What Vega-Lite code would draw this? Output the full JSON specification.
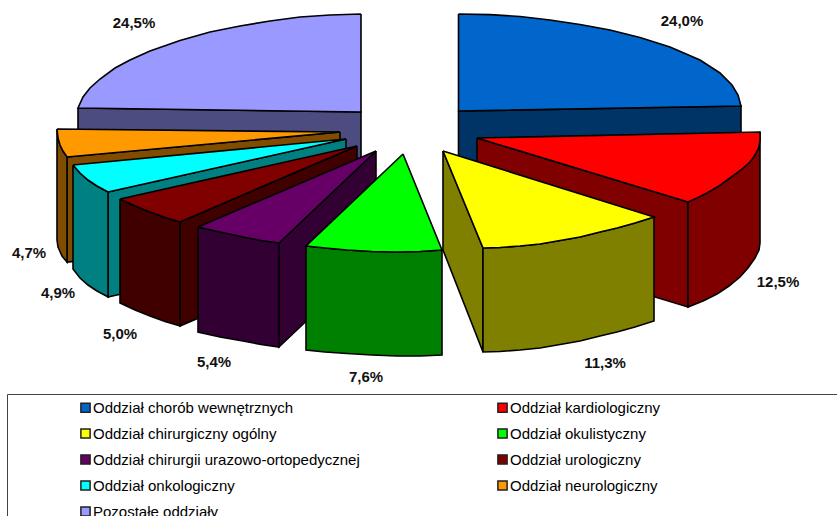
{
  "$schema": "https://vega.github.io/schema/vega-lite/v6.json",
  "width": 837,
  "height": 516,
  "padding": 0,
  "autosize": "none",
  "background": "white",
  "view": {"stroke": null},
  "datasets": {
    "frame": [{"left": 7.5, "right": 845, "top": 394.5, "bottom": 530}],
    "shares": [
      {"share": 24.0, "label": "24,0%", "x": 682, "y": 21},
      {"share": 12.5, "label": "12,5%", "x": 778, "y": 282},
      {"share": 11.3, "label": "11,3%", "x": 605, "y": 363},
      {"share": 7.6, "label": "7,6%", "x": 366, "y": 377},
      {"share": 5.4, "label": "5,4%", "x": 214, "y": 362},
      {"share": 5.0, "label": "5,0%", "x": 120, "y": 334},
      {"share": 4.9, "label": "4,9%", "x": 58, "y": 293},
      {"share": 4.7, "label": "4,7%", "x": 29, "y": 253},
      {"share": 24.5, "label": "24,5%", "x": 134, "y": 23}
    ],
    "faces": [
      {"face": "Pozostałe oddziały, bok", "piece": 1, "i": 0, "x": 78, "y": 108},
      {"face": "Pozostałe oddziały, bok", "piece": 1, "i": 1, "x": 361, "y": 112},
      {"face": "Pozostałe oddziały, bok", "piece": 1, "i": 2, "x": 361, "y": 165},
      {"face": "Pozostałe oddziały, bok", "piece": 1, "i": 3, "x": 78, "y": 145},
      {"face": "Pozostałe oddziały, bok", "piece": 1, "i": 4, "x": 78, "y": 108},

      {"face": "Pozostałe oddziały", "piece": 2, "i": 0, "x": 361, "y": 14},
      {"face": "Pozostałe oddziały", "piece": 2, "i": 1, "x": 330, "y": 15},
      {"face": "Pozostałe oddziały", "piece": 2, "i": 2, "x": 300, "y": 17},
      {"face": "Pozostałe oddziały", "piece": 2, "i": 3, "x": 270, "y": 21},
      {"face": "Pozostałe oddziały", "piece": 2, "i": 4, "x": 240, "y": 26},
      {"face": "Pozostałe oddziały", "piece": 2, "i": 5, "x": 210, "y": 32},
      {"face": "Pozostałe oddziały", "piece": 2, "i": 6, "x": 180, "y": 40.5},
      {"face": "Pozostałe oddziały", "piece": 2, "i": 7, "x": 150, "y": 51},
      {"face": "Pozostałe oddziały", "piece": 2, "i": 8, "x": 130, "y": 60},
      {"face": "Pozostałe oddziały", "piece": 2, "i": 9, "x": 115, "y": 68},
      {"face": "Pozostałe oddziały", "piece": 2, "i": 10, "x": 100, "y": 79},
      {"face": "Pozostałe oddziały", "piece": 2, "i": 11, "x": 90, "y": 88},
      {"face": "Pozostałe oddziały", "piece": 2, "i": 12, "x": 83, "y": 97},
      {"face": "Pozostałe oddziały", "piece": 2, "i": 13, "x": 78, "y": 108},
      {"face": "Pozostałe oddziały", "piece": 2, "i": 14, "x": 361, "y": 112},
      {"face": "Pozostałe oddziały", "piece": 2, "i": 15, "x": 361, "y": 14},

      {"face": "Oddział chorób wewnętrznych, bok", "piece": 3, "i": 0, "x": 458.5, "y": 111},
      {"face": "Oddział chorób wewnętrznych, bok", "piece": 3, "i": 1, "x": 741, "y": 106},
      {"face": "Oddział chorób wewnętrznych, bok", "piece": 3, "i": 2, "x": 741, "y": 145},
      {"face": "Oddział chorób wewnętrznych, bok", "piece": 3, "i": 3, "x": 458.5, "y": 170},
      {"face": "Oddział chorób wewnętrznych, bok", "piece": 3, "i": 4, "x": 458.5, "y": 111},

      {"face": "Oddział chorób wewnętrznych", "piece": 4, "i": 0, "x": 458.5, "y": 14},
      {"face": "Oddział chorób wewnętrznych", "piece": 4, "i": 1, "x": 490, "y": 14.6},
      {"face": "Oddział chorób wewnętrznych", "piece": 4, "i": 2, "x": 520, "y": 16.5},
      {"face": "Oddział chorób wewnętrznych", "piece": 4, "i": 3, "x": 550, "y": 20},
      {"face": "Oddział chorób wewnętrznych", "piece": 4, "i": 4, "x": 580, "y": 24.5},
      {"face": "Oddział chorób wewnętrznych", "piece": 4, "i": 5, "x": 610, "y": 30},
      {"face": "Oddział chorób wewnętrznych", "piece": 4, "i": 6, "x": 640, "y": 37.5},
      {"face": "Oddział chorób wewnętrznych", "piece": 4, "i": 7, "x": 670, "y": 47},
      {"face": "Oddział chorób wewnętrznych", "piece": 4, "i": 8, "x": 700, "y": 60},
      {"face": "Oddział chorób wewnętrznych", "piece": 4, "i": 9, "x": 720, "y": 73},
      {"face": "Oddział chorób wewnętrznych", "piece": 4, "i": 10, "x": 732, "y": 85},
      {"face": "Oddział chorób wewnętrznych", "piece": 4, "i": 11, "x": 738, "y": 95},
      {"face": "Oddział chorób wewnętrznych", "piece": 4, "i": 12, "x": 741, "y": 106},
      {"face": "Oddział chorób wewnętrznych", "piece": 4, "i": 13, "x": 458.5, "y": 111},
      {"face": "Oddział chorób wewnętrznych", "piece": 4, "i": 14, "x": 458.5, "y": 14},

      {"face": "Oddział neurologiczny, bok", "piece": 5, "i": 0, "x": 340, "y": 132},
      {"face": "Oddział neurologiczny, bok", "piece": 5, "i": 1, "x": 67, "y": 157},
      {"face": "Oddział neurologiczny, bok", "piece": 5, "i": 2, "x": 67, "y": 262},
      {"face": "Oddział neurologiczny, bok", "piece": 5, "i": 3, "x": 340, "y": 237},
      {"face": "Oddział neurologiczny, bok", "piece": 5, "i": 4, "x": 340, "y": 132},

      {"face": "Oddział neurologiczny, bok", "piece": 6, "i": 0, "x": 57, "y": 129},
      {"face": "Oddział neurologiczny, bok", "piece": 6, "i": 1, "x": 58, "y": 138},
      {"face": "Oddział neurologiczny, bok", "piece": 6, "i": 2, "x": 60, "y": 145},
      {"face": "Oddział neurologiczny, bok", "piece": 6, "i": 3, "x": 63, "y": 151},
      {"face": "Oddział neurologiczny, bok", "piece": 6, "i": 4, "x": 67, "y": 157},
      {"face": "Oddział neurologiczny, bok", "piece": 6, "i": 5, "x": 67, "y": 262},
      {"face": "Oddział neurologiczny, bok", "piece": 6, "i": 6, "x": 62, "y": 256},
      {"face": "Oddział neurologiczny, bok", "piece": 6, "i": 7, "x": 58, "y": 247},
      {"face": "Oddział neurologiczny, bok", "piece": 6, "i": 8, "x": 57, "y": 240},
      {"face": "Oddział neurologiczny, bok", "piece": 6, "i": 9, "x": 57, "y": 129},

      {"face": "Oddział neurologiczny", "piece": 7, "i": 0, "x": 57, "y": 129},
      {"face": "Oddział neurologiczny", "piece": 7, "i": 1, "x": 340, "y": 132},
      {"face": "Oddział neurologiczny", "piece": 7, "i": 2, "x": 67, "y": 157},
      {"face": "Oddział neurologiczny", "piece": 7, "i": 3, "x": 63, "y": 151},
      {"face": "Oddział neurologiczny", "piece": 7, "i": 4, "x": 60, "y": 145},
      {"face": "Oddział neurologiczny", "piece": 7, "i": 5, "x": 58, "y": 138},
      {"face": "Oddział neurologiczny", "piece": 7, "i": 6, "x": 57, "y": 129},

      {"face": "Oddział onkologiczny, bok", "piece": 8, "i": 0, "x": 346, "y": 139},
      {"face": "Oddział onkologiczny, bok", "piece": 8, "i": 1, "x": 108, "y": 192},
      {"face": "Oddział onkologiczny, bok", "piece": 8, "i": 2, "x": 108, "y": 297},
      {"face": "Oddział onkologiczny, bok", "piece": 8, "i": 3, "x": 346, "y": 243},
      {"face": "Oddział onkologiczny, bok", "piece": 8, "i": 4, "x": 346, "y": 139},

      {"face": "Oddział onkologiczny, bok", "piece": 9, "i": 0, "x": 73, "y": 165},
      {"face": "Oddział onkologiczny, bok", "piece": 9, "i": 1, "x": 80, "y": 173},
      {"face": "Oddział onkologiczny, bok", "piece": 9, "i": 2, "x": 88, "y": 180},
      {"face": "Oddział onkologiczny, bok", "piece": 9, "i": 3, "x": 97, "y": 186},
      {"face": "Oddział onkologiczny, bok", "piece": 9, "i": 4, "x": 108, "y": 192},
      {"face": "Oddział onkologiczny, bok", "piece": 9, "i": 5, "x": 108, "y": 297},
      {"face": "Oddział onkologiczny, bok", "piece": 9, "i": 6, "x": 97, "y": 291},
      {"face": "Oddział onkologiczny, bok", "piece": 9, "i": 7, "x": 88, "y": 285},
      {"face": "Oddział onkologiczny, bok", "piece": 9, "i": 8, "x": 80, "y": 278},
      {"face": "Oddział onkologiczny, bok", "piece": 9, "i": 9, "x": 73, "y": 269},
      {"face": "Oddział onkologiczny, bok", "piece": 9, "i": 10, "x": 73, "y": 165},

      {"face": "Oddział onkologiczny", "piece": 10, "i": 0, "x": 73, "y": 165},
      {"face": "Oddział onkologiczny", "piece": 10, "i": 1, "x": 346, "y": 139},
      {"face": "Oddział onkologiczny", "piece": 10, "i": 2, "x": 108, "y": 192},
      {"face": "Oddział onkologiczny", "piece": 10, "i": 3, "x": 97, "y": 186},
      {"face": "Oddział onkologiczny", "piece": 10, "i": 4, "x": 88, "y": 180},
      {"face": "Oddział onkologiczny", "piece": 10, "i": 5, "x": 80, "y": 173},
      {"face": "Oddział onkologiczny", "piece": 10, "i": 6, "x": 73, "y": 165},

      {"face": "Oddział urologiczny, bok", "piece": 11, "i": 0, "x": 357, "y": 146},
      {"face": "Oddział urologiczny, bok", "piece": 11, "i": 1, "x": 180, "y": 222},
      {"face": "Oddział urologiczny, bok", "piece": 11, "i": 2, "x": 180, "y": 326},
      {"face": "Oddział urologiczny, bok", "piece": 11, "i": 3, "x": 357, "y": 250},
      {"face": "Oddział urologiczny, bok", "piece": 11, "i": 4, "x": 357, "y": 146},

      {"face": "Oddział urologiczny, bok", "piece": 12, "i": 0, "x": 120, "y": 199},
      {"face": "Oddział urologiczny, bok", "piece": 12, "i": 1, "x": 135, "y": 206},
      {"face": "Oddział urologiczny, bok", "piece": 12, "i": 2, "x": 150, "y": 212},
      {"face": "Oddział urologiczny, bok", "piece": 12, "i": 3, "x": 165, "y": 217.5},
      {"face": "Oddział urologiczny, bok", "piece": 12, "i": 4, "x": 180, "y": 222},
      {"face": "Oddział urologiczny, bok", "piece": 12, "i": 5, "x": 180, "y": 326},
      {"face": "Oddział urologiczny, bok", "piece": 12, "i": 6, "x": 165, "y": 321.5},
      {"face": "Oddział urologiczny, bok", "piece": 12, "i": 7, "x": 150, "y": 316},
      {"face": "Oddział urologiczny, bok", "piece": 12, "i": 8, "x": 135, "y": 310},
      {"face": "Oddział urologiczny, bok", "piece": 12, "i": 9, "x": 120, "y": 303},
      {"face": "Oddział urologiczny, bok", "piece": 12, "i": 10, "x": 120, "y": 199},

      {"face": "Oddział urologiczny", "piece": 13, "i": 0, "x": 120, "y": 199},
      {"face": "Oddział urologiczny", "piece": 13, "i": 1, "x": 357, "y": 146},
      {"face": "Oddział urologiczny", "piece": 13, "i": 2, "x": 180, "y": 222},
      {"face": "Oddział urologiczny", "piece": 13, "i": 3, "x": 165, "y": 217.5},
      {"face": "Oddział urologiczny", "piece": 13, "i": 4, "x": 150, "y": 212},
      {"face": "Oddział urologiczny", "piece": 13, "i": 5, "x": 135, "y": 206},
      {"face": "Oddział urologiczny", "piece": 13, "i": 6, "x": 120, "y": 199},

      {"face": "Oddział chirurgii urazowo-ortopedycznej, bok", "piece": 14, "i": 0, "x": 376, "y": 151},
      {"face": "Oddział chirurgii urazowo-ortopedycznej, bok", "piece": 14, "i": 1, "x": 279, "y": 243},
      {"face": "Oddział chirurgii urazowo-ortopedycznej, bok", "piece": 14, "i": 2, "x": 279, "y": 347},
      {"face": "Oddział chirurgii urazowo-ortopedycznej, bok", "piece": 14, "i": 3, "x": 376, "y": 255},
      {"face": "Oddział chirurgii urazowo-ortopedycznej, bok", "piece": 14, "i": 4, "x": 376, "y": 151},

      {"face": "Oddział chirurgii urazowo-ortopedycznej, bok", "piece": 15, "i": 0, "x": 198, "y": 227},
      {"face": "Oddział chirurgii urazowo-ortopedycznej, bok", "piece": 15, "i": 1, "x": 220, "y": 232},
      {"face": "Oddział chirurgii urazowo-ortopedycznej, bok", "piece": 15, "i": 2, "x": 243, "y": 237},
      {"face": "Oddział chirurgii urazowo-ortopedycznej, bok", "piece": 15, "i": 3, "x": 261, "y": 240.5},
      {"face": "Oddział chirurgii urazowo-ortopedycznej, bok", "piece": 15, "i": 4, "x": 279, "y": 243},
      {"face": "Oddział chirurgii urazowo-ortopedycznej, bok", "piece": 15, "i": 5, "x": 279, "y": 347},
      {"face": "Oddział chirurgii urazowo-ortopedycznej, bok", "piece": 15, "i": 6, "x": 261, "y": 344.5},
      {"face": "Oddział chirurgii urazowo-ortopedycznej, bok", "piece": 15, "i": 7, "x": 243, "y": 341},
      {"face": "Oddział chirurgii urazowo-ortopedycznej, bok", "piece": 15, "i": 8, "x": 220, "y": 337},
      {"face": "Oddział chirurgii urazowo-ortopedycznej, bok", "piece": 15, "i": 9, "x": 198, "y": 332},
      {"face": "Oddział chirurgii urazowo-ortopedycznej, bok", "piece": 15, "i": 10, "x": 198, "y": 227},

      {"face": "Oddział chirurgii urazowo-ortopedycznej", "piece": 16, "i": 0, "x": 198, "y": 227},
      {"face": "Oddział chirurgii urazowo-ortopedycznej", "piece": 16, "i": 1, "x": 376, "y": 151},
      {"face": "Oddział chirurgii urazowo-ortopedycznej", "piece": 16, "i": 2, "x": 279, "y": 243},
      {"face": "Oddział chirurgii urazowo-ortopedycznej", "piece": 16, "i": 3, "x": 261, "y": 240.5},
      {"face": "Oddział chirurgii urazowo-ortopedycznej", "piece": 16, "i": 4, "x": 243, "y": 237},
      {"face": "Oddział chirurgii urazowo-ortopedycznej", "piece": 16, "i": 5, "x": 220, "y": 232},
      {"face": "Oddział chirurgii urazowo-ortopedycznej", "piece": 16, "i": 6, "x": 198, "y": 227},

      {"face": "Oddział okulistyczny, bok", "piece": 17, "i": 0, "x": 306, "y": 246},
      {"face": "Oddział okulistyczny, bok", "piece": 17, "i": 1, "x": 325, "y": 248},
      {"face": "Oddział okulistyczny, bok", "piece": 17, "i": 2, "x": 347, "y": 250},
      {"face": "Oddział okulistyczny, bok", "piece": 17, "i": 3, "x": 372, "y": 251.5},
      {"face": "Oddział okulistyczny, bok", "piece": 17, "i": 4, "x": 397, "y": 252},
      {"face": "Oddział okulistyczny, bok", "piece": 17, "i": 5, "x": 420, "y": 251.5},
      {"face": "Oddział okulistyczny, bok", "piece": 17, "i": 6, "x": 442, "y": 250},
      {"face": "Oddział okulistyczny, bok", "piece": 17, "i": 7, "x": 442, "y": 355},
      {"face": "Oddział okulistyczny, bok", "piece": 17, "i": 8, "x": 420, "y": 356},
      {"face": "Oddział okulistyczny, bok", "piece": 17, "i": 9, "x": 397, "y": 356},
      {"face": "Oddział okulistyczny, bok", "piece": 17, "i": 10, "x": 372, "y": 355},
      {"face": "Oddział okulistyczny, bok", "piece": 17, "i": 11, "x": 347, "y": 353.5},
      {"face": "Oddział okulistyczny, bok", "piece": 17, "i": 12, "x": 325, "y": 352},
      {"face": "Oddział okulistyczny, bok", "piece": 17, "i": 13, "x": 306, "y": 350},
      {"face": "Oddział okulistyczny, bok", "piece": 17, "i": 14, "x": 306, "y": 246},

      {"face": "Oddział okulistyczny", "piece": 18, "i": 0, "x": 403, "y": 154},
      {"face": "Oddział okulistyczny", "piece": 18, "i": 1, "x": 442, "y": 250},
      {"face": "Oddział okulistyczny", "piece": 18, "i": 2, "x": 420, "y": 251.5},
      {"face": "Oddział okulistyczny", "piece": 18, "i": 3, "x": 397, "y": 252},
      {"face": "Oddział okulistyczny", "piece": 18, "i": 4, "x": 372, "y": 251.5},
      {"face": "Oddział okulistyczny", "piece": 18, "i": 5, "x": 347, "y": 250},
      {"face": "Oddział okulistyczny", "piece": 18, "i": 6, "x": 325, "y": 248},
      {"face": "Oddział okulistyczny", "piece": 18, "i": 7, "x": 306, "y": 246},
      {"face": "Oddział okulistyczny", "piece": 18, "i": 8, "x": 403, "y": 154},

      {"face": "Oddział kardiologiczny, bok", "piece": 19, "i": 0, "x": 477, "y": 138},
      {"face": "Oddział kardiologiczny, bok", "piece": 19, "i": 1, "x": 688, "y": 202},
      {"face": "Oddział kardiologiczny, bok", "piece": 19, "i": 2, "x": 688, "y": 307},
      {"face": "Oddział kardiologiczny, bok", "piece": 19, "i": 3, "x": 477, "y": 243},
      {"face": "Oddział kardiologiczny, bok", "piece": 19, "i": 4, "x": 477, "y": 138},

      {"face": "Oddział kardiologiczny, bok", "piece": 20, "i": 0, "x": 760, "y": 132},
      {"face": "Oddział kardiologiczny, bok", "piece": 20, "i": 1, "x": 760, "y": 243},
      {"face": "Oddział kardiologiczny, bok", "piece": 20, "i": 2, "x": 759, "y": 250},
      {"face": "Oddział kardiologiczny, bok", "piece": 20, "i": 3, "x": 755, "y": 258},
      {"face": "Oddział kardiologiczny, bok", "piece": 20, "i": 4, "x": 748, "y": 268},
      {"face": "Oddział kardiologiczny, bok", "piece": 20, "i": 5, "x": 740, "y": 277},
      {"face": "Oddział kardiologiczny, bok", "piece": 20, "i": 6, "x": 729, "y": 286},
      {"face": "Oddział kardiologiczny, bok", "piece": 20, "i": 7, "x": 717, "y": 294},
      {"face": "Oddział kardiologiczny, bok", "piece": 20, "i": 8, "x": 703, "y": 301},
      {"face": "Oddział kardiologiczny, bok", "piece": 20, "i": 9, "x": 688, "y": 307},
      {"face": "Oddział kardiologiczny, bok", "piece": 20, "i": 10, "x": 688, "y": 202},
      {"face": "Oddział kardiologiczny, bok", "piece": 20, "i": 11, "x": 760, "y": 132},

      {"face": "Oddział kardiologiczny", "piece": 21, "i": 0, "x": 477, "y": 138},
      {"face": "Oddział kardiologiczny", "piece": 21, "i": 1, "x": 760, "y": 132},
      {"face": "Oddział kardiologiczny", "piece": 21, "i": 2, "x": 760, "y": 140},
      {"face": "Oddział kardiologiczny", "piece": 21, "i": 3, "x": 759, "y": 147},
      {"face": "Oddział kardiologiczny", "piece": 21, "i": 4, "x": 755, "y": 155},
      {"face": "Oddział kardiologiczny", "piece": 21, "i": 5, "x": 750, "y": 162},
      {"face": "Oddział kardiologiczny", "piece": 21, "i": 6, "x": 741, "y": 170},
      {"face": "Oddział kardiologiczny", "piece": 21, "i": 7, "x": 730, "y": 178},
      {"face": "Oddział kardiologiczny", "piece": 21, "i": 8, "x": 719, "y": 186},
      {"face": "Oddział kardiologiczny", "piece": 21, "i": 9, "x": 707, "y": 193},
      {"face": "Oddział kardiologiczny", "piece": 21, "i": 10, "x": 697, "y": 198},
      {"face": "Oddział kardiologiczny", "piece": 21, "i": 11, "x": 688, "y": 202},
      {"face": "Oddział kardiologiczny", "piece": 21, "i": 12, "x": 477, "y": 138},

      {"face": "Oddział chirurgiczny ogólny, bok", "piece": 22, "i": 0, "x": 443, "y": 151},
      {"face": "Oddział chirurgiczny ogólny, bok", "piece": 22, "i": 1, "x": 483, "y": 248},
      {"face": "Oddział chirurgiczny ogólny, bok", "piece": 22, "i": 2, "x": 483, "y": 352},
      {"face": "Oddział chirurgiczny ogólny, bok", "piece": 22, "i": 3, "x": 443, "y": 250},
      {"face": "Oddział chirurgiczny ogólny, bok", "piece": 22, "i": 4, "x": 443, "y": 151},

      {"face": "Oddział chirurgiczny ogólny, bok", "piece": 23, "i": 0, "x": 483, "y": 248},
      {"face": "Oddział chirurgiczny ogólny, bok", "piece": 23, "i": 1, "x": 500, "y": 247.5},
      {"face": "Oddział chirurgiczny ogólny, bok", "piece": 23, "i": 2, "x": 520, "y": 246},
      {"face": "Oddział chirurgiczny ogólny, bok", "piece": 23, "i": 3, "x": 540, "y": 244},
      {"face": "Oddział chirurgiczny ogólny, bok", "piece": 23, "i": 4, "x": 563, "y": 240},
      {"face": "Oddział chirurgiczny ogólny, bok", "piece": 23, "i": 5, "x": 580, "y": 237},
      {"face": "Oddział chirurgiczny ogólny, bok", "piece": 23, "i": 6, "x": 600, "y": 232},
      {"face": "Oddział chirurgiczny ogólny, bok", "piece": 23, "i": 7, "x": 617, "y": 228},
      {"face": "Oddział chirurgiczny ogólny, bok", "piece": 23, "i": 8, "x": 635, "y": 223},
      {"face": "Oddział chirurgiczny ogólny, bok", "piece": 23, "i": 9, "x": 654, "y": 217},
      {"face": "Oddział chirurgiczny ogólny, bok", "piece": 23, "i": 10, "x": 654, "y": 321},
      {"face": "Oddział chirurgiczny ogólny, bok", "piece": 23, "i": 11, "x": 635, "y": 327},
      {"face": "Oddział chirurgiczny ogólny, bok", "piece": 23, "i": 12, "x": 617, "y": 332},
      {"face": "Oddział chirurgiczny ogólny, bok", "piece": 23, "i": 13, "x": 600, "y": 336},
      {"face": "Oddział chirurgiczny ogólny, bok", "piece": 23, "i": 14, "x": 580, "y": 341},
      {"face": "Oddział chirurgiczny ogólny, bok", "piece": 23, "i": 15, "x": 563, "y": 344},
      {"face": "Oddział chirurgiczny ogólny, bok", "piece": 23, "i": 16, "x": 540, "y": 348},
      {"face": "Oddział chirurgiczny ogólny, bok", "piece": 23, "i": 17, "x": 520, "y": 350},
      {"face": "Oddział chirurgiczny ogólny, bok", "piece": 23, "i": 18, "x": 500, "y": 351.5},
      {"face": "Oddział chirurgiczny ogólny, bok", "piece": 23, "i": 19, "x": 483, "y": 352},
      {"face": "Oddział chirurgiczny ogólny, bok", "piece": 23, "i": 20, "x": 483, "y": 248},

      {"face": "Oddział chirurgiczny ogólny", "piece": 24, "i": 0, "x": 443, "y": 151},
      {"face": "Oddział chirurgiczny ogólny", "piece": 24, "i": 1, "x": 654, "y": 217},
      {"face": "Oddział chirurgiczny ogólny", "piece": 24, "i": 2, "x": 635, "y": 223},
      {"face": "Oddział chirurgiczny ogólny", "piece": 24, "i": 3, "x": 617, "y": 228},
      {"face": "Oddział chirurgiczny ogólny", "piece": 24, "i": 4, "x": 600, "y": 232},
      {"face": "Oddział chirurgiczny ogólny", "piece": 24, "i": 5, "x": 580, "y": 237},
      {"face": "Oddział chirurgiczny ogólny", "piece": 24, "i": 6, "x": 563, "y": 240},
      {"face": "Oddział chirurgiczny ogólny", "piece": 24, "i": 7, "x": 540, "y": 244},
      {"face": "Oddział chirurgiczny ogólny", "piece": 24, "i": 8, "x": 520, "y": 246},
      {"face": "Oddział chirurgiczny ogólny", "piece": 24, "i": 9, "x": 500, "y": 247.5},
      {"face": "Oddział chirurgiczny ogólny", "piece": 24, "i": 10, "x": 483, "y": 248},
      {"face": "Oddział chirurgiczny ogólny", "piece": 24, "i": 11, "x": 443, "y": 151}
    ]
  },
  "layer": [
    {
      "data": {"name": "frame"},
      "mark": {"type": "rect", "fill": "white", "stroke": "#444444", "strokeWidth": 1, "clip": true},
      "encoding": {
        "x": {"field": "left", "type": "quantitative", "scale": {"domain": [0, 837], "nice": false, "zero": false}, "axis": null},
        "x2": {"field": "right"},
        "y": {"field": "top", "type": "quantitative", "scale": {"domain": [516, 0], "nice": false, "zero": false}, "axis": null},
        "y2": {"field": "bottom"}
      }
    },
    {
      "data": {"name": "faces"},
      "mark": {"type": "line", "stroke": "black", "strokeWidth": 1.6, "strokeJoin": "miter"},
      "encoding": {
        "x": {"field": "x", "type": "quantitative", "scale": {"domain": [0, 837], "nice": false, "zero": false}, "axis": null},
        "y": {"field": "y", "type": "quantitative", "scale": {"domain": [516, 0], "nice": false, "zero": false}, "axis": null},
        "detail": {"field": "piece", "type": "nominal"},
        "order": {"field": "i", "type": "quantitative"},
        "fill": {
          "field": "face",
          "type": "nominal",
          "sort": null,
          "scale": {
            "domain": [
              "Oddział chorób wewnętrznych", "Oddział kardiologiczny", "Oddział chirurgiczny ogólny", "Oddział okulistyczny",
              "Oddział chirurgii urazowo-ortopedycznej", "Oddział urologiczny", "Oddział onkologiczny", "Oddział neurologiczny", "Pozostałe oddziały",
              "Oddział chorób wewnętrznych, bok", "Oddział kardiologiczny, bok", "Oddział chirurgiczny ogólny, bok", "Oddział okulistyczny, bok",
              "Oddział chirurgii urazowo-ortopedycznej, bok", "Oddział urologiczny, bok", "Oddział onkologiczny, bok", "Oddział neurologiczny, bok", "Pozostałe oddziały, bok"
            ],
            "range": [
              "#0066CC", "#FF0000", "#FFFF00", "#00FF00", "#660066", "#800000", "#00FFFF", "#FF9900", "#9999FF",
              "#003366", "#800000", "#808000", "#008000", "#330033", "#400000", "#008080", "#804C00", "#4C4C80"
            ]
          },
          "legend": {
            "values": [
              "Oddział chorób wewnętrznych", "Oddział kardiologiczny", "Oddział chirurgiczny ogólny", "Oddział okulistyczny",
              "Oddział chirurgii urazowo-ortopedycznej", "Oddział urologiczny", "Oddział onkologiczny", "Oddział neurologiczny", "Pozostałe oddziały"
            ],
            "title": null,
            "orient": "none",
            "direction": "horizontal",
            "legendX": 78,
            "legendY": 400,
            "columns": 2,
            "columnPadding": 134,
            "rowPadding": 9,
            "padding": 0,
            "symbolType": "square",
            "symbolSize": 85,
            "symbolStrokeColor": "#222222",
            "symbolStrokeWidth": 1.5,
            "labelFont": "Liberation Sans",
            "labelFontSize": 15,
            "labelColor": "black",
            "labelOffset": 0,
            "labelLimit": 400
          }
        }
      }
    },
    {
      "data": {"name": "shares"},
      "mark": {"type": "text", "font": "Liberation Sans", "fontWeight": "bold", "fontSize": 15, "color": "#111111", "align": "center", "baseline": "middle"},
      "encoding": {
        "x": {"field": "x", "type": "quantitative", "scale": {"domain": [0, 837], "nice": false, "zero": false}, "axis": null},
        "y": {"field": "y", "type": "quantitative", "scale": {"domain": [516, 0], "nice": false, "zero": false}, "axis": null},
        "text": {"field": "label", "type": "nominal"}
      }
    }
  ]
}
